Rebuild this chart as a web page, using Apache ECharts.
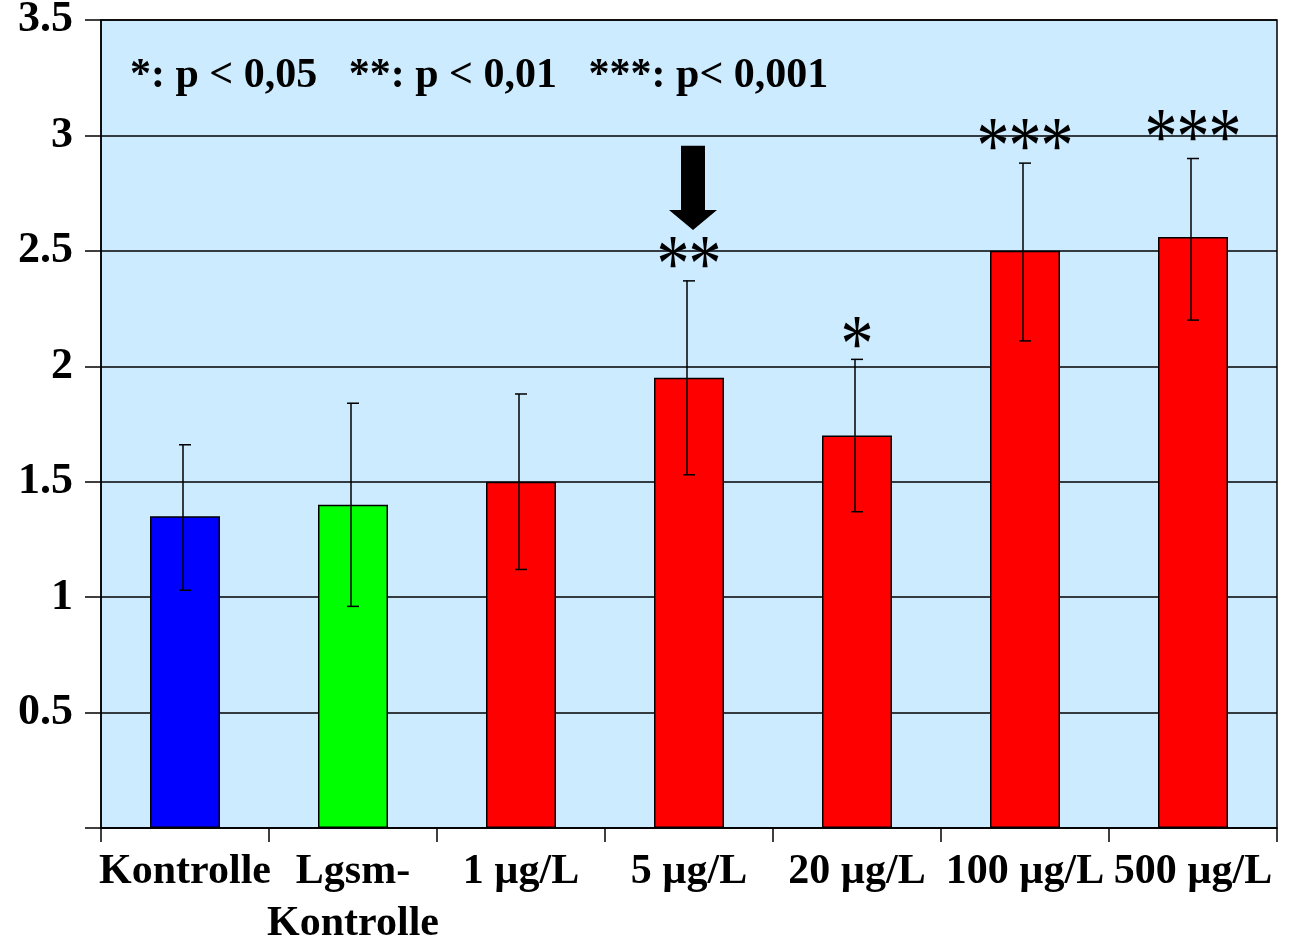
<!DOCTYPE html>
<html>
<head>
<meta charset="utf-8">
<script src="https://cdn.jsdelivr.net/npm/echarts@6/dist/echarts.min.js"></script>
<style>
  html, body { margin: 0; padding: 0; background: #fff; }
  #chart { width: 1292px; height: 940px; }
</style>
</head>
<body>
<div id="chart"></div>
<script>
// data
const categories = ["Kontrolle", "Lgsm-\nKontrolle", "1 µg/L", "5 µg/L", "20 µg/L", "100 µg/L", "500 µg/L"];
const means = [1.35, 1.40, 1.50, 1.95, 1.70, 2.50, 2.56];
const errLow = [1.03, 0.96, 1.12, 1.53, 1.37, 2.11, 2.20];
const errHigh = [1.66, 1.84, 1.88, 2.37, 2.03, 2.88, 2.90];
const barColors = ["#0000FF", "#00FF00", "#FF0000", "#FF0000", "#FF0000", "#FF0000", "#FF0000"];
// significance stars: [category index, value at star centre, number of stars]
const stars = [[3, 2.50, 2], [4, 2.15, 1], [5, 3.01, 3], [6, 3.05, 3]];
// arrow: [category index, top value, head start value, tip value]
const arrows = [[3, 2.955, 2.677, 2.59]];
const legendText = "*: p < 0,05   **: p < 0,01   ***: p< 0,001";

const serif = "'Liberation Serif', 'Times New Roman', serif";

let chart = echarts.init(document.getElementById("chart"));

chart.setOption({
  animation: false,
  grid: {
    left: 101,
    right: 15,
    top: 20,
    bottom: 112,
    containLabel: false,
    outerBoundsMode: "none",
    show: true,
    backgroundColor: "#CCEBFF",
    borderColor: "#000",
    borderWidth: 1.5,
  },
  graphic: [
    {
      type: "text",
      left: 130,
      top: 55,
      style: {
        text: legendText,
        font: "bold 42px " + serif,
        fill: "#000",
      },
    },
  ],
  xAxis: {
    type: "category",
    data: categories,
    axisLine: { lineStyle: { color: "#000", width: 1.5 } },
    axisTick: { show: true, length: 14, lineStyle: { color: "#000", width: 1.5 } },
    axisLabel: {
      color: "#000",
      fontFamily: serif,
      fontWeight: "bold",
      fontSize: 42,
      margin: 18,
      lineHeight: 52,
      interval: 0,
    },
  },
  yAxis: {
    type: "value",
    min: 0,
    max: 3.5,
    interval: 0.5,
    axisLine: { show: true, lineStyle: { color: "#000", width: 1.5 } },
    axisTick: { show: true, length: 16, lineStyle: { color: "#000", width: 1.5 } },
    splitLine: { lineStyle: { color: "#000", width: 1.5 } },
    axisLabel: {
      color: "#000",
      fontFamily: serif,
      fontWeight: "bold",
      fontSize: 44,
      margin: 28,
      formatter: function (v) {
        return v === 0 ? "" : String(v);
      },
    },
  },
  series: [
    {
      type: "bar",
      barWidth: 70,
      data: means.map(function (v, i) {
        return {
          value: v,
          itemStyle: { color: barColors[i], borderColor: "#000", borderWidth: 1.5 },
        };
      }),
      z: 2,
    },
    {
      // error bars
      type: "custom",
      z: 3,
      data: errLow.map(function (lo, i) {
        return [i, lo, errHigh[i]];
      }),
      renderItem: function (params, api) {
        const lo = api.coord([api.value(0), api.value(1)]);
        const hi = api.coord([api.value(0), api.value(2)]);
        const x = lo[0] - 2;
        const cap = 6;
        const style = { stroke: "#000", lineWidth: 1.5 };
        return {
          type: "group",
          children: [
            { type: "line", shape: { x1: x, y1: lo[1], x2: x, y2: hi[1] }, style: style },
            { type: "line", shape: { x1: x - cap + 2, y1: hi[1], x2: x + cap + 2, y2: hi[1] }, style: style },
            { type: "line", shape: { x1: x - cap + 2, y1: lo[1], x2: x + cap + 2, y2: lo[1] }, style: style },
          ],
        };
      },
    },
    {
      // arrow
      type: "custom",
      z: 4,
      data: arrows,
      renderItem: function (params, api) {
        const top = api.coord([api.value(0), api.value(1)]);
        const mid = api.coord([api.value(0), api.value(2)]);
        const tip = api.coord([api.value(0), api.value(3)]);
        const cx = top[0] + 4;
        const sw = 12;
        const hw = 24;
        return {
          type: "polygon",
          shape: {
            points: [
              [cx - sw, top[1]],
              [cx + sw, top[1]],
              [cx + sw, mid[1]],
              [cx + hw, mid[1]],
              [cx, tip[1]],
              [cx - hw, mid[1]],
              [cx - sw, mid[1]],
            ],
          },
          style: { fill: "#000" },
        };
      },
    },
    {
      // significance stars, one glyph each, 32px apart
      type: "custom",
      z: 5,
      data: stars,
      renderItem: function (params, api) {
        const c = api.coord([api.value(0), api.value(1)]);
        const n = api.value(2);
        const fs = 66;
        const sy = 1.25;
        const kids = [];
        for (let k = 0; k < n; k++) {
          kids.push({
            type: "text",
            x: c[0] + (k - (n - 1) / 2) * 32,
            y: c[1] - fs * 0.28 * sy,
            scaleY: sy,
            style: {
              text: "*",
              font: fs + "px " + serif,
              fill: "#000",
              align: "center",
              verticalAlign: "top",
            },
          });
        }
        return { type: "group", children: kids };
      },
    },
  ],
});
</script>
</body>
</html>
